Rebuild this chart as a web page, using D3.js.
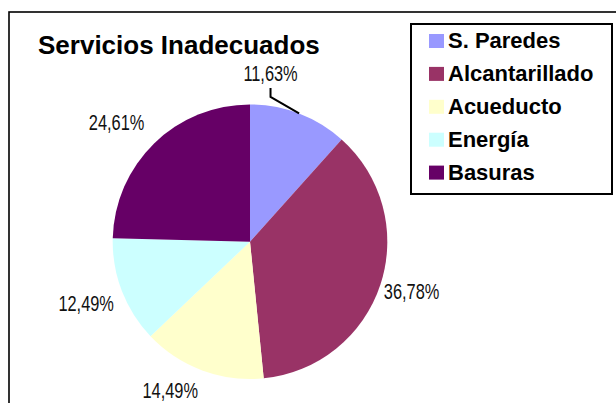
<!DOCTYPE html>
<html>
<head>
<meta charset="utf-8">
<script src="https://cdn.jsdelivr.net/npm/d3@7"></script>
<style>
  html, body { margin: 0; padding: 0; background: #fff; }
  svg { display: block; }
</style>
</head>
<body>
<svg id="chart" width="616" height="403"></svg>
<script>
// ---- data ----
const categories = ["S. Paredes", "Alcantarillado", "Acueducto", "Energía", "Basuras"];
const values = [11.63, 36.78, 14.49, 12.49, 24.61];
const colors = ["#9999FF", "#993366", "#FFFFCC", "#CCFFFF", "#660066"];
const title = "Servicios Inadecuados";

// ---- layout (label placement tweaks, in degrees / px) ----
const labelAngleShift = [-14, -1, 7.9, 0.5, -3.9];
const labelRadius = [170, 169, 168.5, 175, 179];

const W = 616, H = 403;
const cx = 250, cy = 241.7, R = 137.3;

const svg = d3.select("#chart");
svg.append("rect").attr("width", W).attr("height", H).attr("fill", "#fff");

// chart frame (cropped on right & bottom)
svg.append("rect")
  .attr("x", 9).attr("y", 12).attr("width", 700).attr("height", 500)
  .attr("fill", "none").attr("stroke", "#000").attr("stroke-width", 1.6);

// title
svg.append("text")
  .attr("x", 38).attr("y", 54)
  .attr("font-family", "'Liberation Sans', Arial, sans-serif")
  .attr("font-weight", "bold").attr("font-size", 26)
  .attr("fill", "#000")
  .text(title);

// pie
const pie = d3.pie().sort(null).value(d => d.v);
const data = categories.map((c, i) => ({ c, v: values[i], col: colors[i] }));
const arcs = pie(data);
const arc = d3.arc().innerRadius(0).outerRadius(R);

const g = svg.append("g").attr("transform", `translate(${cx},${cy})`);
g.selectAll("path.slice").data(arcs).enter().append("path")
  .attr("class", "slice")
  .attr("d", arc)
  .attr("fill", d => d.data.col)
  .attr("stroke", "none");

// labels
const fmt = d3.formatLocale({ decimal: ",", thousands: ".", grouping: [3], currency: ["", ""] }).format(".2f");
const toRad = Math.PI / 180;
arcs.forEach((a, i) => {
  const mid = (a.startAngle + a.endAngle) / 2;
  const ang = mid + labelAngleShift[i] * toRad;
  const r = labelRadius[i];
  const lx = Math.sin(ang) * r;
  const ly = -Math.cos(ang) * r;
  g.append("text")
    .attr("transform", `translate(${lx},${ly}) scale(0.78,1.05)`)
    .attr("text-anchor", "middle")
    .attr("dy", "0.36em")
    .attr("font-family", "'Liberation Sans', Arial, sans-serif")
    .attr("font-size", 21)
    .attr("fill", "#111")
    .text(fmt(a.data.v) + "%");
  if (Math.abs(labelAngleShift[i]) > 10) {
    // leader line from slice edge to the label
    const px = Math.sin(mid) * R, py = -Math.cos(mid) * R;
    g.append("path")
      .attr("d", d3.line()([[px, py], [lx, ly + 24], [lx, ly + 15]]))
      .attr("fill", "none").attr("stroke", "#000").attr("stroke-width", 2);
  }
});

// legend
const lg = svg.append("g");
lg.append("rect")
  .attr("x", 411).attr("y", 24).attr("width", 201).attr("height", 170)
  .attr("fill", "#fff").attr("stroke", "#000").attr("stroke-width", 2);
const rowY = d3.scalePoint().domain(categories).range([34, 34 + 4 * 32.9]);
categories.forEach((c, i) => {
  lg.append("rect")
    .attr("x", 429).attr("y", rowY(c)).attr("width", 15).attr("height", 14)
    .attr("fill", colors[i]);
  lg.append("text")
    .attr("x", 448).attr("y", rowY(c) + 14.3)
    .attr("font-family", "'Liberation Sans', Arial, sans-serif")
    .attr("font-weight", "bold").attr("font-size", 22)
    .attr("fill", "#000")
    .text(c);
});
</script>
</body>
</html>
